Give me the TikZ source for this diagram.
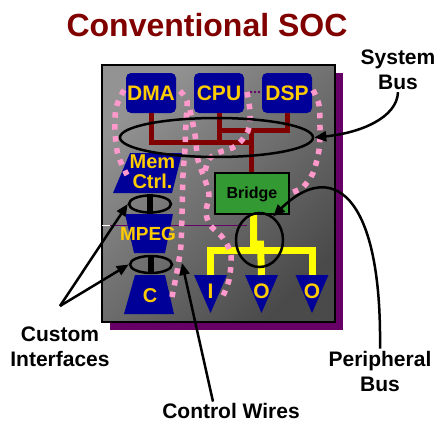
\documentclass[tikz,border=0pt]{standalone}
\usepackage{fontspec}
\setmainfont{Liberation Sans}
\usetikzlibrary{shapes.geometric,arrows.meta}

\definecolor{socred}{HTML}{800000}
\definecolor{socblue}{HTML}{000099}
\definecolor{socyellow}{HTML}{FFCC00}
\definecolor{socgreen}{HTML}{339933}
\definecolor{socpurple}{HTML}{660066}
\definecolor{socpink}{HTML}{FF99CC}
\definecolor{busyellow}{HTML}{FFFF00}
\definecolor{graylight}{HTML}{939393}
\definecolor{graydark}{HTML}{4A4A4A}

\tikzset{
  blk/.style={fill=socblue, rounded corners=5pt, minimum width=50pt, minimum height=40pt,
    inner sep=0pt, text=socyellow, font=\fontsize{21}{21}\selectfont\bfseries},
  blklbl/.style={text=socyellow, inner sep=0pt, font=\fontsize{20}{20}\selectfont\bfseries},
  sysbus/.style={draw=socred, line width=5pt},
  perbus/.style={draw=busyellow, line width=7pt},
  ctrlwire/.style={draw=socpink, line width=5.5pt, dash pattern=on 5.5pt off 6.5pt},
  ring/.style={ellipse, draw=black, line width=2.5pt, inner sep=0pt},
  lblarrow/.style={draw=black, line width=2.5pt, -{Triangle[length=12pt,width=10pt]}},
  lbl/.style={align=center, inner sep=2pt, font=\fontsize{21}{25}\selectfont\bfseries},
}

\begin{document}
\begin{tikzpicture}[x=1pt,y=-1pt]
\useasboundingbox (0,0) rectangle (440,423);

% title
\node[text=socred, font=\fontsize{32}{32}\selectfont\bfseries] (title) at (207,25) {Conventional SOC};

% chip
\fill[socpurple] (110,73) rectangle (343,330);
\shade[top color=graylight, bottom color=graydark, shading angle=45] (102,65) rectangle (335,322);
\draw[line width=2pt] (102,65) rectangle (335,322);
\draw[white, line width=0.8pt] (102,225) -- (110,225);
\draw[socpurple, line width=0.8pt] (110,225) -- (247,225);

% processors
\node[blk] (dma) at (151,93) {DMA};
\node[blk] (cpu) at (219,93) {CPU};
\node[blk] (dsp) at (287,93) {DSP};
\foreach \dx in {251,255,259} \fill[socpurple] (\dx,92) circle (1.3pt);

\node[draw=black, line width=1.5pt, fill=socgreen, minimum width=74pt, minimum height=41pt,
  inner sep=0pt, text height=11.5pt, text depth=1pt,
  font=\fontsize{16}{16}\selectfont\bfseries] (bridge) at (252,193.5) {Bridge};

% system bus
\draw[sysbus] (dma.south) |- (251,142);
\draw[sysbus] (cpu.south) -- (cpu.south |- 0,142);
\draw[sysbus] (cpu.south |- 0,130) -| (dsp.south);
\draw[sysbus] (251,130) -- (bridge.north -| 251,0);

% left column
\fill[socblue] (130,153) -- (182,153) -- (172,193) -- (113,193) -- cycle;
\node[blklbl, align=center] (mem) at (152.5,172) {Mem\\Ctrl.};
\fill[socblue] (125,214) -- (173,214) -- (165,253) -- (134,253) -- cycle;
\node[blklbl, font=\fontsize{19}{19}\selectfont\bfseries] (mpeg) at (148,234) {MPEG};
\fill[socblue] (135,275) -- (165,275) -- (174,314) -- (124,314) -- cycle;
\node[blklbl] (cdec) at (150,296) {C};

% peripherals
\foreach \cx/\txt/\nm in {210.5/I/tio1, 261.5/O/tio2, 312/O/tio3}{
  \fill[socblue] (\cx-16.5,275) -- (\cx+16.5,275) -- (\cx,313) -- cycle;
  \node[blklbl, font=\fontsize{21}{21}\selectfont\bfseries] (\nm) at (\cx,291) {\txt};
  \coordinate (\nm-top) at (\cx,275);
}

% peripheral bus
\draw[perbus] (tio1-top) -- ++(0,-25) -| (tio3-top);
\draw[perbus] (bridge.south -| 253.5,0) |- (260.5,244) -- (tio2-top);

% control wires
\draw[ctrlwire] plot[smooth] coordinates {(124,90) (116,108) (115,132) (118,155) (127,175)};
\draw[ctrlwire] plot[smooth] coordinates {(180,91) (187,101) (186,121) (185,148) (183,175) (182,213) (181,245) (178,266) (172,297)};
\draw[ctrlwire] plot[smooth] coordinates {(190,110) (195,135) (198,160) (205,180) (209,195) (206,212) (210,225) (223,238) (231,255) (229,280) (222,298)};
\draw[ctrlwire] plot[smooth] coordinates {(247,92) (250,112) (248,131) (236,146) (220,152) (209,159) (205,172)};
\draw[ctrlwire] plot[smooth] coordinates {(313,90) (319,105) (320,128) (319,150) (313,173) (303,187) (291,193)};

% interfaces
\node[ring, minimum width=42pt, minimum height=17pt] (ifa) at (150,204) {};
\draw[line width=6pt] (ifa.north) -- (ifa.south);
\node[ring, minimum width=42pt, minimum height=17pt] (ifb) at (151,264.5) {};
\draw[line width=6pt] (ifb.north) -- (ifb.south);

\node[ring, minimum width=193pt, minimum height=39pt] (sbus) at (216.5,137.5) {};
\node[ring, minimum width=47pt, minimum height=54pt] (pbus) at (259.5,240) {};

% labels
\node[lbl] (sbl) at (398,70) {System\\Bus};
\draw[lblarrow] (sbl.south) .. controls (397,118) and (360,133) .. (sbus.east);

\node[lbl] (pbl) at (380,371) {Peripheral\\Bus};
\draw[lblarrow] (pbl.north) .. controls (382,190) and (330,160) .. (pbus.60);

\node[lbl] (cil) at (60,347) {Custom\\Interfaces};
\coordinate (cifork) at (60,306);
\draw[lblarrow] (cifork) -- (ifa.west);
\draw[lblarrow] (cifork) -- (ifb.west);

\node[lbl, inner sep=1pt] (cwl) at (231,410.5) {Control Wires};
\coordinate (cwtip) at (182,263);
\draw[lblarrow] ([xshift=-18pt]cwl.north) -- (cwtip);
\end{tikzpicture}
\end{document}
